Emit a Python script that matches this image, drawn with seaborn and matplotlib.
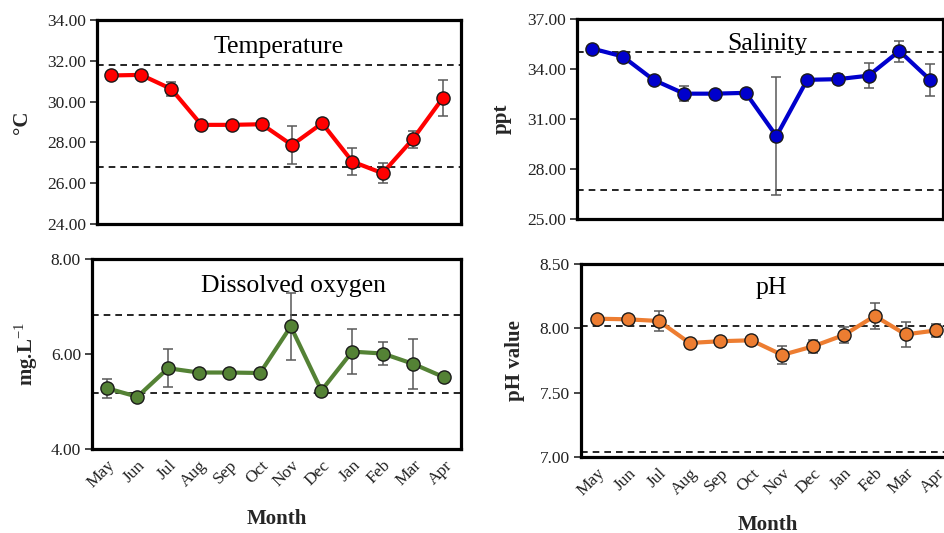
import numpy as np
import pandas as pd
import seaborn as sns
import matplotlib
matplotlib.use("Agg")
import matplotlib.pyplot as plt

sns.set_theme(style="white")
plt.rcParams['font.family'] = ['Liberation Serif', 'DejaVu Serif']
plt.rcParams['mathtext.fontset'] = 'custom'
plt.rcParams['mathtext.rm'] = 'Liberation Serif'
plt.rcParams['mathtext.bf'] = 'Liberation Serif:bold'

months = ["May", "Jun", "Jul", "Aug", "Sep", "Oct", "Nov", "Dec", "Jan", "Feb", "Mar", "Apr"]

temp_mean = [31.28, 31.31, 30.62, 28.86, 28.86, 28.89, 27.87, 28.94, 27.06, 26.49, 28.15, 30.18]
temp_err = [0.08, 0.08, 0.33, 0.12, 0.08, 0.1, 0.93, 0.1, 0.65, 0.48, 0.41, 0.9]
temp_lims = [31.80, 26.78]

sal_mean = [35.23, 34.75, 33.35, 32.52, 32.52, 32.57, 29.97, 33.35, 33.39, 33.60, 35.08, 33.35]
sal_err = [0.12, 0.15, 0.2, 0.45, 0.15, 0.15, 3.55, 0.15, 0.3, 0.75, 0.63, 0.97]
sal_lims = [34.99, 26.73]

do_mean = [5.28, 5.10, 5.70, 5.61, 5.61, 5.60, 6.58, 5.23, 6.05, 6.01, 5.79, 5.51]
do_err = [0.20, 0.03, 0.40, 0.06, 0.03, 0.03, 0.70, 0.04, 0.48, 0.25, 0.52, 0.05]
do_lims = [6.83, 5.18]

ph_mean = [8.075, 8.07, 8.057, 7.886, 7.90, 7.907, 7.793, 7.86, 7.948, 8.096, 7.953, 7.984]
ph_err = [0.02, 0.02, 0.075, 0.02, 0.01, 0.01, 0.07, 0.05, 0.06, 0.10, 0.10, 0.05]
ph_lims = [8.016, 7.04]

fig = plt.figure(figsize=(9.45, 5.33), dpi=100)

panels = [
    dict(rect=[97/945, 1-224/533, (461-97)/945, 204/533], mean=temp_mean, err=temp_err, lims=temp_lims,
         color="#FF0000", ylim=(24, 34), yticks=np.arange(24, 34.01, 2), title="Temperature",
         ty=0.87, tx=0.5, ylabel="°C", xlim=(-0.46, 11.6), xlabels=False, ylx=-0.179, lp=12),
    dict(rect=[577/945, 1-219/533, (943-577)/945, 200/533], mean=sal_mean, err=sal_err, lims=sal_lims,
         color="#0000CC", ylim=(25, 37), yticks=np.arange(25, 37.01, 3), title="Salinity",
         ty=0.875, tx=0.52, ylabel="ppt", xlim=(-0.49, 11.42), xlabels=False, ylx=-0.178, lp=12),
    dict(rect=[92/945, 1-449/533, (461-92)/945, 190/533], mean=do_mean, err=do_err, lims=do_lims,
         color="#548235", ylim=(4, 8), yticks=np.arange(4, 8.01, 2), title="Dissolved oxygen",
         ty=0.86, tx=0.545, ylabel="mg.L$^{-1}$", xlim=(-0.48, 11.55), xlabels=True, ylx=-0.141, lp=13),
    dict(rect=[581/945, 1-457/533, (955-581)/945, 193/533], mean=ph_mean, err=ph_err, lims=ph_lims,
         color="#ED7D31", ylim=(7, 8.5), yticks=np.arange(7, 8.51, 0.5), title="pH",
         ty=0.875, tx=0.51, ylabel="pH value", xlim=(-0.52, 11.6), xlabels=True, ylx=-0.15, lp=11),
]

for p in panels:
    ax = fig.add_axes(p["rect"])
    df = pd.DataFrame({"x": np.arange(len(months)), "y": p["mean"], "e": p["err"]})
    ax.errorbar(df["x"], df["y"], yerr=df["e"], fmt="none", ecolor="#595959",
                elinewidth=1.1, capsize=3.5, capthick=1.1, zorder=2)
    sns.lineplot(data=df, x="x", y="y", ax=ax, color=p["color"], linewidth=3,
                 marker="o", markersize=9.5, markerfacecolor=p["color"],
                 markeredgecolor="#1a1a1a", markeredgewidth=1.0, zorder=3)
    for v in p["lims"]:
        ax.axhline(v, color="black", linestyle=(0, (4, 3)), linewidth=1.2, zorder=1)
    ax.set_xlim(*p["xlim"])
    ax.set_ylim(*p["ylim"])
    ax.set_yticks(p["yticks"])
    ax.set_yticklabels([f"{t:.2f}" for t in p["yticks"]], fontsize=12.5, color="#222222")
    ax.set_xticks(np.arange(len(months)))
    if p["xlabels"]:
        ax.set_xticklabels(months, rotation=45, ha="right", rotation_mode="anchor",
                           fontsize=12.5, color="#222222")
        ax.set_xlabel("Month", fontsize=15, fontweight="bold", labelpad=p["lp"])
    else:
        ax.set_xticklabels([])
        ax.set_xlabel("")
    ax.tick_params(axis="x", length=0, pad=6)
    ax.tick_params(axis="y", length=5, width=1.2, direction="out", left=True, pad=3)
    ax.set_ylabel(p["ylabel"], fontsize=15, fontweight="bold")
    ax.yaxis.set_label_coords(p["ylx"], 0.5)
    for s in ax.spines.values():
        s.set_linewidth(2.3)
        s.set_color("black")
    ax.text(p["tx"], p["ty"], p["title"], transform=ax.transAxes, ha="center", va="center",
            fontsize=18.5, color="black")
    ax.grid(False)

fig.savefig("out.png", dpi=100)
